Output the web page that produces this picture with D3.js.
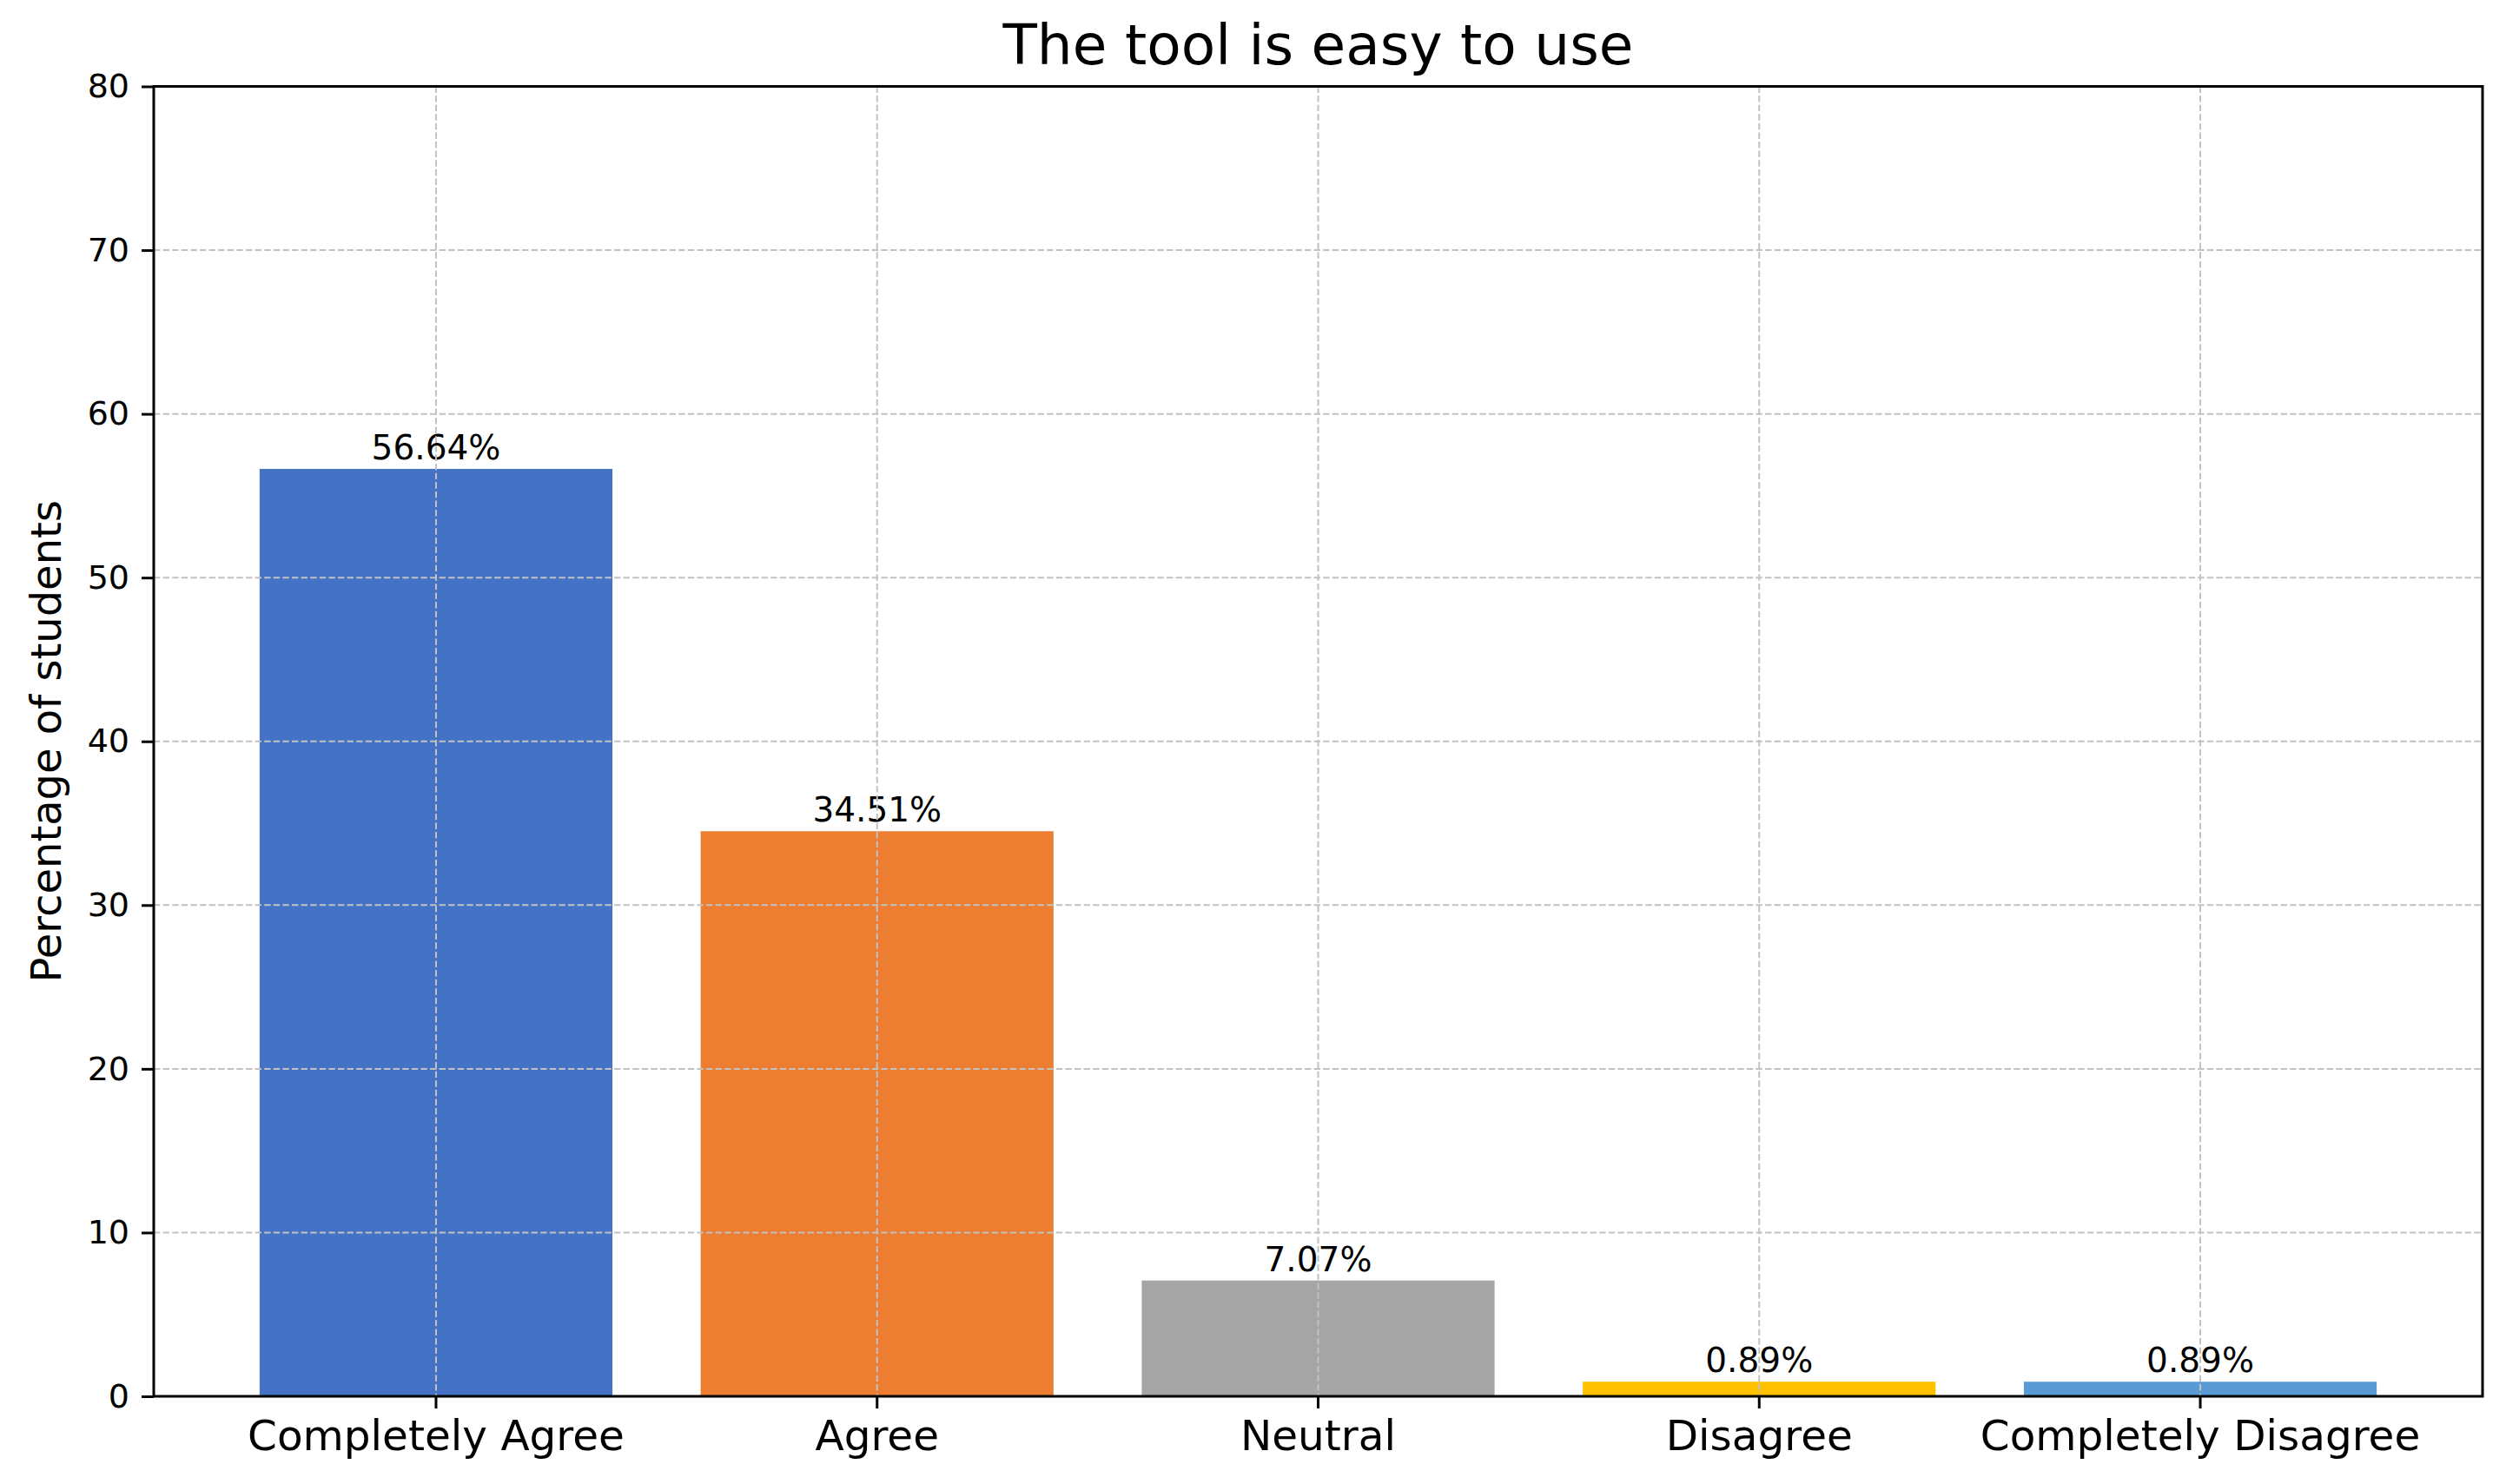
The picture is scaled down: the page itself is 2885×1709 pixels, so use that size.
<!DOCTYPE html>
<html lang="en">
  <head>
    <meta charset="UTF-8" />
    <title>The tool is easy to use</title>
    <script src="https://cdn.jsdelivr.net/npm/d3@7"></script>
    <style>
      body { margin: 0; background: #fff; }
      text { font-family: "DejaVu Sans", sans-serif; fill: #000; }
    </style>
  </head>
  <body>
    <svg id="svg" width="2885" height="1709"></svg>
    <script>
      const categories = ["Completely Agree", "Agree", "Neutral", "Disagree", "Completely Disagree"];
      const values = [56.64, 34.51, 7.07, 0.89, 0.89];
      const colors = ["#4472C4", "#ED7D31", "#A5A5A5", "#FFC000", "#5B9BD5"];
      const yTicks = [0, 10, 20, 30, 40, 50, 60, 70, 80];

      const plotLeft = 177, plotRight = 2858, plotTop = 99.5, plotBottom = 1608;

      const svg = d3.select("#svg");

      const x = d3.scaleBand()
        .domain(categories)
        .range([plotLeft, plotRight])
        .paddingInner(0.2)
        .paddingOuter(0.24);

      const y = d3.scaleLinear().domain([0, 80]).range([plotBottom, plotTop]);

      // bars
      svg.append("g")
        .selectAll("rect")
        .data(values)
        .enter()
        .append("rect")
        .attr("x", (d, i) => x(categories[i]))
        .attr("y", d => y(d))
        .attr("width", x.bandwidth())
        .attr("height", d => y(0) - y(d))
        .attr("fill", (d, i) => colors[i]);

      // value labels
      svg.append("g")
        .selectAll("text")
        .data(values)
        .enter()
        .append("text")
        .attr("x", (d, i) => x(categories[i]) + x.bandwidth() / 2)
        .attr("y", d => y(d) - 11)
        .attr("text-anchor", "middle")
        .style("font-size", "39px")
        .text(d => d.toFixed(2) + "%");

      // grid (drawn over bars like the original)
      const grid = svg.append("g")
        .attr("stroke", "#c2c2c2")
        .attr("stroke-width", 2)
        .attr("stroke-dasharray", "7.4,3.2");
      grid.selectAll(".h")
        .data(yTicks)
        .enter()
        .append("line")
        .attr("x1", plotLeft).attr("x2", plotRight)
        .attr("y1", d => y(d)).attr("y2", d => y(d));
      grid.selectAll(".v")
        .data(categories)
        .enter()
        .append("line")
        .attr("x1", d => x(d) + x.bandwidth() / 2)
        .attr("x2", d => x(d) + x.bandwidth() / 2)
        .attr("y1", plotTop).attr("y2", plotBottom);

      // axes
      const xAxis = svg.append("g")
        .attr("transform", `translate(0,${plotBottom})`)
        .call(d3.axisBottom(x).tickSize(14).tickPadding(14).tickSizeOuter(0));
      xAxis.selectAll("text").style("font-size", "48.5px");

      const yAxis = svg.append("g")
        .attr("transform", `translate(${plotLeft},0)`)
        .call(d3.axisLeft(y).tickValues(yTicks).tickSize(14).tickPadding(14).tickSizeOuter(0));
      yAxis.selectAll("text").style("font-size", "38px");

      [xAxis, yAxis].forEach(a => {
        a.selectAll("line").attr("stroke", "#000").attr("stroke-width", 3);
        a.select(".domain").remove();
        a.selectAll("text").attr("fill", "#000").style("font-family", "DejaVu Sans");
      });

      // frame
      svg.append("rect")
        .attr("x", plotLeft).attr("y", plotTop)
        .attr("width", plotRight - plotLeft).attr("height", plotBottom - plotTop)
        .attr("fill", "none")
        .attr("stroke", "#000")
        .attr("stroke-width", 3);

      // title and y label
      svg.append("text")
        .attr("x", (plotLeft + plotRight) / 2)
        .attr("y", 74)
        .attr("text-anchor", "middle")
        .style("font-size", "64.5px")
        .text("The tool is easy to use");

      svg.append("text")
        .attr("transform", `translate(70,${(plotTop + plotBottom) / 2}) rotate(-90)`)
        .attr("text-anchor", "middle")
        .style("font-size", "48px")
        .text("Percentage of students");
    </script>
  </body>
</html>
